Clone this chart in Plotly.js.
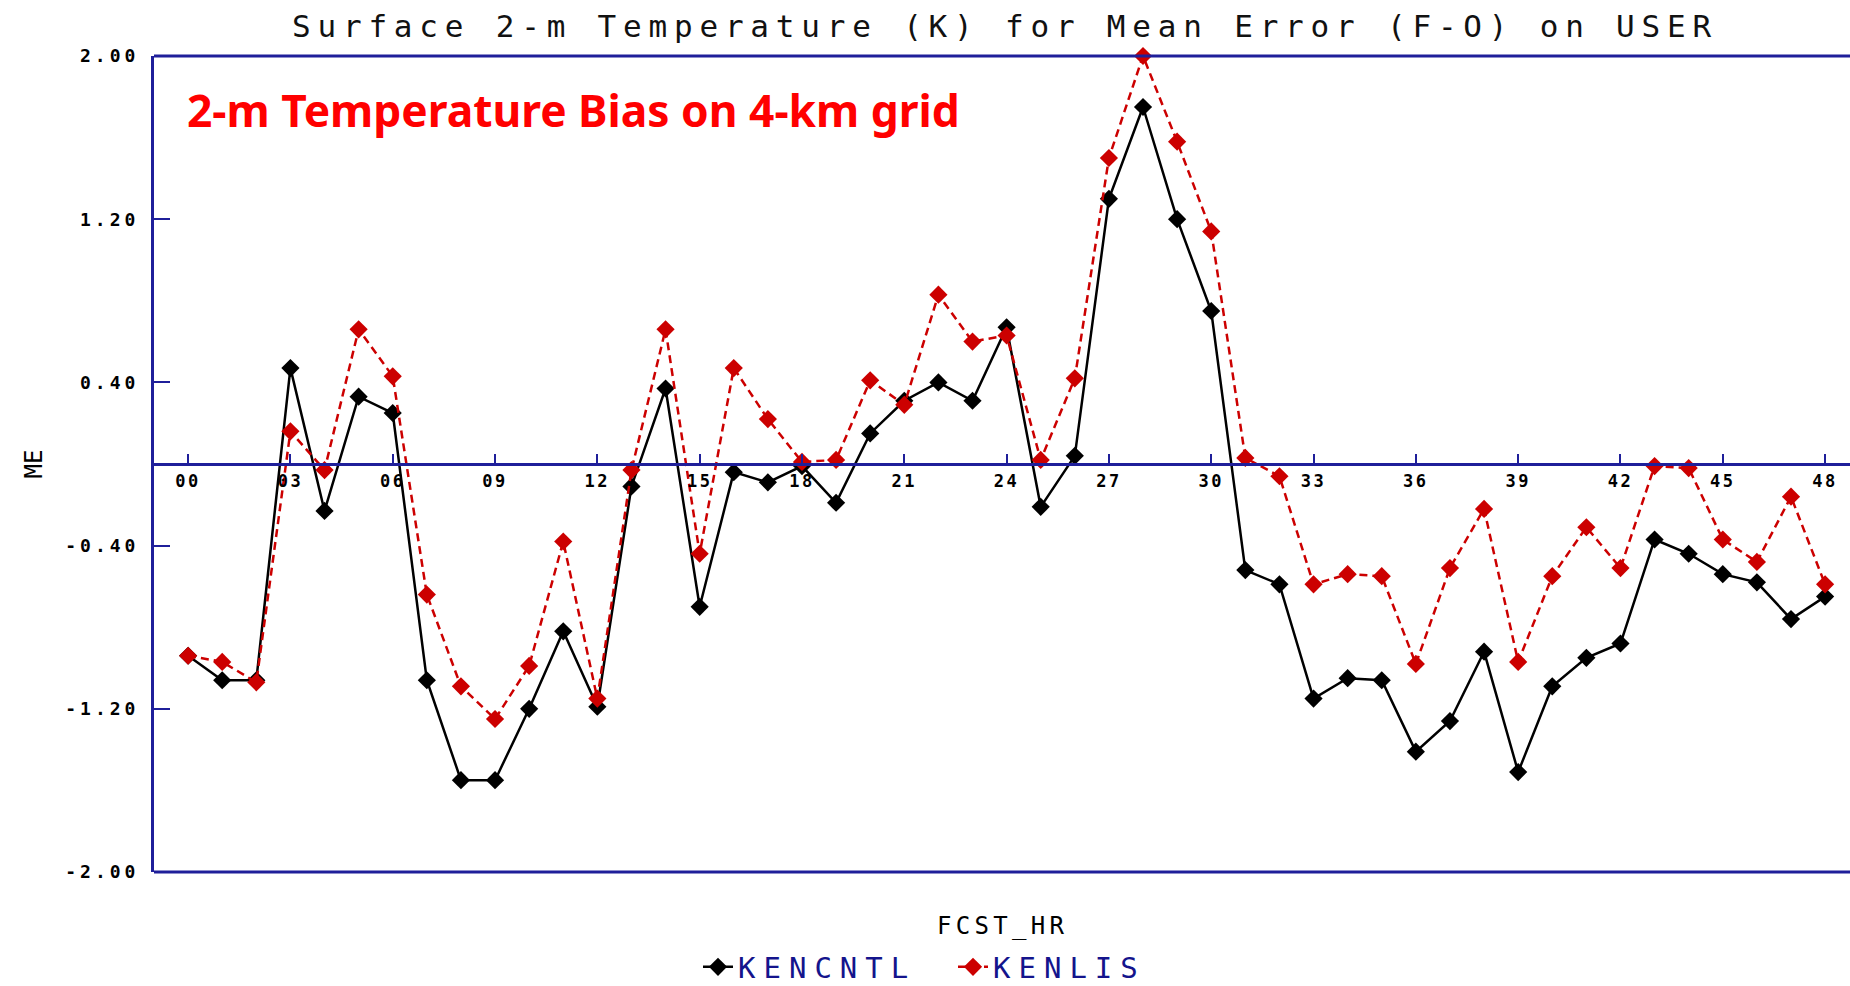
<!DOCTYPE html>
<html>
<head>
<meta charset="utf-8">
<script src="https://cdn.plot.ly/plotly-3.0.1.min.js"></script>
<style>
  html, body { margin: 0; padding: 0; background: #ffffff; }
  #chart { width: 1850px; height: 986px; }
  .gtitle { letter-spacing: 6.8px; }
  .xtick text { letter-spacing: 2.5px; }
  .ytick text { letter-spacing: 4px; }
  .legendtext { letter-spacing: 8px; }
  g.annotation[data-index="1"] text { letter-spacing: 4.3px; }
</style>
</head>
<body>
<div id="chart"></div>
<script>
// ---- data ----
const fcstHours = [0,1,2,3,4,5,6,7,8,9,10,11,12,13,14,15,16,17,18,19,20,21,22,23,24,
                   25,26,27,28,29,30,31,32,33,34,35,36,37,38,39,40,41,42,43,44,45,46,47,48];

const kencntl = [-0.94,-1.06,-1.06,0.47,-0.23,0.33,0.25,-1.06,-1.55,-1.55,-1.20,-0.82,-1.19,
                 -0.11,0.37,-0.70,-0.04,-0.09,-0.01,-0.19,0.15,0.31,0.40,0.31,0.67,
                 -0.21,0.04,1.30,1.75,1.20,0.75,-0.52,-0.59,-1.15,-1.05,-1.06,-1.41,-1.26,
                 -0.92,-1.51,-1.09,-0.95,-0.88,-0.37,-0.44,-0.54,-0.58,-0.76,-0.65];

const kenlis = [-0.94,-0.97,-1.07,0.16,-0.03,0.66,0.43,-0.64,-1.09,-1.25,-0.99,-0.38,-1.15,
                -0.03,0.66,-0.44,0.47,0.22,0.01,0.02,0.41,0.29,0.83,0.60,0.63,
                0.02,0.42,1.50,2.00,1.58,1.14,0.03,-0.06,-0.59,-0.54,-0.55,-0.98,-0.51,
                -0.22,-0.97,-0.55,-0.31,-0.51,-0.01,-0.02,-0.37,-0.48,-0.16,-0.59];

const xTickVals = [0,3,6,9,12,15,18,21,24,27,30,33,36,39,42,45,48];
const xTickText = ["00","03","06","09","12","15","18","21","24","27","30","33","36","39","42","45","48"];
const yTickVals = [2.0,1.2,0.4,-0.4,-1.2,-2.0];
const yTickText = ["2.00","1.20","0.40","-0.40","-1.20","-2.00"];

const seriesNames = ["KENCNTL","KENLIS"];
const chartTitle = "Surface 2-m Temperature (K) for Mean Error (F-O) on USER";
const overlayText = "2-m Temperature Bias on 4-km grid";
const xTitle = "FCST_HR";
const yTitle = "ME";

// ---- styling ----
const NAVY = "#1f1f9a";
const MONO = "DejaVu Sans Mono, Liberation Mono, monospace";

const traces = [
  {
    x: fcstHours, y: kencntl, name: seriesNames[0],
    type: "scatter", mode: "lines+markers", cliponaxis: false,
    line: { color: "#000000", width: 2.5 },
    marker: { symbol: "diamond", size: 14, color: "#000000" }
  },
  {
    x: fcstHours, y: kenlis, name: seriesNames[1],
    type: "scatter", mode: "lines+markers", cliponaxis: false,
    line: { color: "#cc0000", width: 2.5, dash: "8px,5px" },
    marker: { symbol: "diamond", size: 14, color: "#cc0000" }
  }
];

const layout = {
  width: 1850, height: 986,
  margin: { l: 154, r: 0, t: 56, b: 114, pad: 0 },
  paper_bgcolor: "#ffffff", plot_bgcolor: "#ffffff",
  showlegend: true,
  title: {
    text: chartTitle,
    font: { family: MONO, size: 31, color: "#111111" },
    x: 1005 / 1850, xanchor: "center", xref: "container",
    y: 1 - 26 / 986, yanchor: "middle", yref: "container"
  },
  xaxis: {
    range: [-1.0, 48.73],
    anchor: "free", position: 0.5,
    tickmode: "array", tickvals: xTickVals, ticktext: xTickText,
    ticks: "inside", ticklen: 9, tickwidth: 2, tickcolor: NAVY,
    ticklabelstandoff: 1,
    showline: true, linecolor: NAVY, linewidth: 3,
    showgrid: false, zeroline: false,
    tickfont: { family: MONO, size: 17, color: "#000000", weight: "bold" }
  },
  yaxis: {
    range: [-2, 2],
    tickmode: "array", tickvals: yTickVals, ticktext: yTickText,
    ticks: "inside", ticklen: 16, tickwidth: 2, tickcolor: NAVY,
    ticklabelstandoff: 8,
    showline: true, linecolor: NAVY, linewidth: 3,
    showgrid: false, zeroline: false,
    tickfont: { family: MONO, size: 18, color: "#000000", weight: "bold" },
    title: { text: yTitle, font: { family: MONO, size: 24, color: "#000000" }, standoff: 16 }
  },
  shapes: [
    { type: "line", xref: "paper", yref: "paper", x0: 0, x1: 1, y0: 1, y1: 1,
      line: { color: NAVY, width: 3 } },
    { type: "line", xref: "paper", yref: "paper", x0: 0, x1: 1, y0: 0, y1: 0,
      line: { color: NAVY, width: 3 } }
  ],
  annotations: [
    {
      text: overlayText, showarrow: false,
      xref: "paper", yref: "paper",
      x: (185 - 154) / 1696, xanchor: "left",
      y: 1 - (110 - 56) / 816, yanchor: "middle",
      font: { family: "Noto Sans, Open Sans, sans-serif", size: 44.3, color: "#ff0000", weight: "bold" }
    },
    {
      text: xTitle, showarrow: false,
      xref: "paper", yref: "paper",
      x: (1003 - 154) / 1696, xanchor: "center",
      y: -(926 - 872) / 816, yanchor: "middle",
      font: { family: MONO, size: 24, color: "#000000" }
    }
  ],
  legend: {
    orientation: "h",
    xref: "container", yref: "container",
    x: 698 / 1850, xanchor: "left",
    y: 1 - 967 / 986, yanchor: "middle",
    font: { family: MONO, size: 29, color: "#14148c" },
    bgcolor: "rgba(0,0,0,0)",
    entrywidth: 210, entrywidthmode: "pixels",
    itemwidth: 30, tracegroupgap: 0
  }
};

Plotly.newPlot("chart", traces, layout, { displayModeBar: false, staticPlot: true });
</script>
</body>
</html>
